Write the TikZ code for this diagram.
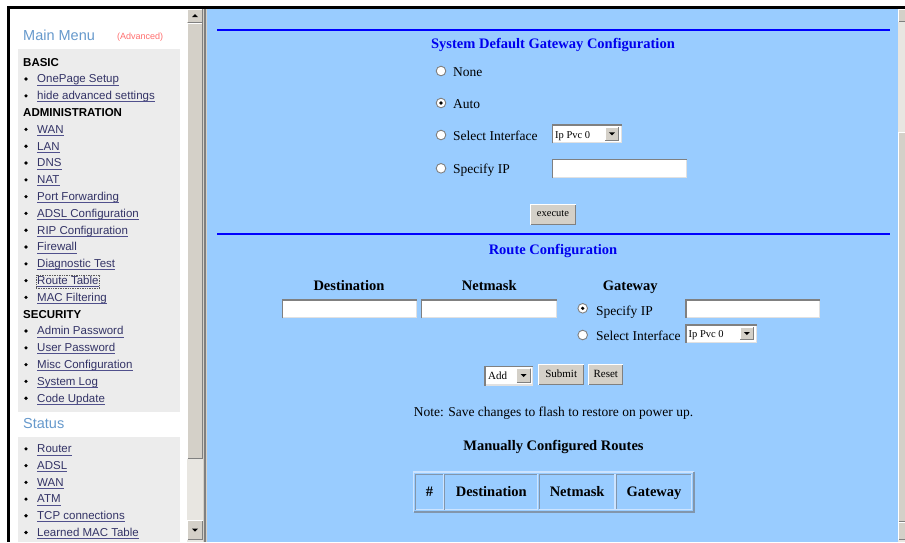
\documentclass[tikz,border=0pt]{standalone}
\usepackage{fontspec}
\setmainfont{Liberation Serif}
\setsansfont{Liberation Sans}

\definecolor{pagebg}{RGB}{153,204,255}
\definecolor{rulebl}{RGB}{0,0,255}
\definecolor{titlebl}{RGB}{0,0,238}
\definecolor{menubl}{RGB}{102,153,204}
\definecolor{advred}{RGB}{255,110,110}
\definecolor{boxgray}{RGB}{236,236,236}
\definecolor{linkc}{RGB}{51,51,102}
\definecolor{linkline}{RGB}{80,80,140}
\definecolor{btnface}{RGB}{212,208,200}
\definecolor{btndark}{RGB}{128,128,128}
\definecolor{trackc}{RGB}{232,230,225}
\definecolor{fieldlight}{RGB}{225,225,225}
\definecolor{celllight}{RGB}{205,228,255}
\definecolor{cellshade}{RGB}{130,150,172}

% raised 3D face: x1 y1 x2 y2
\newcommand\raisedface[4]{%
  \fill[btnface] (#1,#2) rectangle (#3,#4);
  \draw[white,line width=1pt] (#1+0.5,#4-0.5) -- (#1+0.5,#2+0.5) -- (#3-0.5,#2+0.5);
  \draw[btndark,line width=1pt] (#1+0.5,#4-0.5) -- (#3-0.5,#4-0.5) -- (#3-0.5,#2+0.5);
}
% sunken white input field: x1 y1 x2 y2
\newcommand\inputfield[4]{%
  \fill[white] (#1,#2) rectangle (#3,#4);
  \draw[fieldlight,line width=1.2pt] (#1,#4-0.6) -- (#3-0.6,#4-0.6) -- (#3-0.6,#2);
  \draw[btndark,line width=1.2pt] (#1+0.6,#4) -- (#1+0.6,#2+0.6) -- (#3,#2+0.6);
}
% small black arrow heads for buttons, centred at x y
\newcommand\downtri[2]{\fill[black] ({#1-3},{#2-1.5}) -- ({#1+3},{#2-1.5}) -- (#1,{#2+1.5}) -- cycle;}
\newcommand\uptri[2]{\fill[black] ({#1-3},{#2+1.5}) -- ({#1+3},{#2+1.5}) -- (#1,{#2-1.5}) -- cycle;}
% select box with its drop-down button: x1 y1 x2 y2
\newcommand\selectbox[4]{%
  \inputfield{#1}{#2}{#3}{#4}
  \raisedface{#3-17}{#2+2.5}{#3-2.5}{#4-2.5}
  \downtri{#3-9.75}{(#2+#4)/2}
}
% radio button: x y checked
\newcommand\radiobtn[3]{%
  \draw[btndark,line width=0.9pt,fill=white] (#1,#2) circle (4.8);
  \ifnum#3=1 \fill[black] (#1,#2) circle (1.8);\fi
}

\begin{document}
\begin{tikzpicture}[x=1pt,y=-1pt,
  sidehead/.style={anchor=base west,inner sep=0pt,font=\sffamily\bfseries\fontsize{11.5}{13}\selectfont,text=black},
  sidelink/.style={anchor=base west,inner sep=0pt,font=\sffamily\fontsize{11.5}{13}\selectfont,text=linkc},
  menutitle/.style={anchor=base west,inner sep=0pt,font=\sffamily\fontsize{14.5}{16}\selectfont,text=menubl},
  sectitle/.style={anchor=base,inner sep=0pt,font=\bfseries\fontsize{14.5}{16}\selectfont,text=titlebl},
  formtext/.style={anchor=base west,inner sep=0pt,font=\fontsize{13.5}{16}\selectfont},
  colhead/.style={anchor=base,inner sep=0pt,font=\bfseries\fontsize{14.5}{16}\selectfont},
  btntext/.style={inner sep=0pt,font=\fontsize{11}{13}\selectfont},
  smalltext/.style={anchor=base west,inner sep=0pt,font=\fontsize{10.5}{12}\selectfont},
]
\useasboundingbox (0,0) rectangle (905,542);
\fill[white] (0,0) rectangle (905,542);

% window frame
\fill[black] (7,6) rectangle (905,8.5);
\fill[black] (7,6) rectangle (9.5,542);

% ---------- left menu frame ----------
\fill[white] (9.5,8.5) rectangle (187,542);
\fill[boxgray] (18,49) rectangle (180,412);
\fill[boxgray] (18,437) rectangle (180,542);

\node[menutitle] (mainmenu) at (23,40) {Main Menu};
\node[anchor=base west,inner sep=0pt,font=\sffamily\fontsize{9}{10}\selectfont,text=advred] (adv) at (117,39.3) {(Advanced)};

\foreach \i/\t in {0/BASIC,3/ADMINISTRATION,15/SECURITY}{
  \node[sidehead] (m\i) at (23,{66+\i*16.8}) {\t};
}
\foreach \i/\t in {1/OnePage Setup,2/hide advanced settings,4/WAN,5/LAN,6/DNS,7/NAT,
  8/Port Forwarding,9/ADSL Configuration,10/RIP Configuration,11/Firewall,
  12/Diagnostic Test,13/Route Table,14/MAC Filtering,16/Admin Password,
  17/User Password,18/Misc Configuration,19/System Log,20/Code Update}{
  \fill[black] (26,{66+\i*16.8-3.8}) circle (1.8);
  \node[sidelink] (m\i) at (37,{66+\i*16.8}) {\t};
  \draw[linkline,line width=0.8pt] ([yshift=-2.2pt]m\i.base west) -- ([yshift=-2.2pt]m\i.base east);
}
% focus outline of the current entry
\draw[densely dotted,black!65,line width=0.7pt] ([xshift=-1pt,yshift=-3.5pt]m13.base west) rectangle ([xshift=1pt,yshift=9.5pt]m13.base east);

\node[menutitle] (status) at (23,428.3) {Status};
\foreach \j/\t in {0/Router,1/ADSL,2/WAN,3/ATM,4/TCP connections,5/Learned MAC Table}{
  \fill[black] (26,{452.7+\j*16.72-3.8}) circle (1.8);
  \node[sidelink] (s\j) at (37,{452.7+\j*16.72}) {\t};
  \draw[linkline,line width=0.8pt] ([yshift=-2.2pt]s\j.base west) -- ([yshift=-2.2pt]s\j.base east);
}

% left scroll bar
\fill[trackc] (187,8.5) rectangle (203,542);
\raisedface{187}{8.5}{203}{22.5}
\uptri{195}{15.5}
\raisedface{187}{22.5}{203}{459}
\raisedface{187}{520}{203}{540}
\downtri{195}{530}

% frame splitter
\fill[btnface] (203,8.5) rectangle (207,542);
\fill[btndark] (204.3,8.5) rectangle (206.3,542);

% ---------- main frame ----------
\fill[pagebg] (207,8.5) rectangle (898,542);

% right scroll bar
\fill[trackc] (898,8.5) rectangle (905,542);
\raisedface{898}{8.5}{908}{22}
\raisedface{898}{132}{908}{522}
\raisedface{898}{522}{908}{540}

\draw[rulebl,line width=2pt] (217,29.5) -- (890,29.5);
\draw[rulebl,line width=2pt] (217,234) -- (890,234);

% default gateway section
\node[sectitle] (gwtitle) at (553,48.5) {System Default Gateway Configuration};

\radiobtn{441}{71}{0}
\node[formtext] (optnone) at (453,76) {None};
\radiobtn{441}{103}{1}
\node[formtext] (optauto) at (453,108) {Auto};
\radiobtn{441}{135}{0}
\node[formtext] (optif) at (453,140) {Select Interface};
\selectbox{551.7}{124.3}{621.7}{143.3}
\node[smalltext] (ifval) at (555,138) {Ip Pvc 0};
\radiobtn{441}{168.3}{0}
\node[formtext] (optip) at (453,173) {Specify IP};
\inputfield{551.7}{159}{686.7}{178}

\raisedface{530}{204}{576}{225}
\node[btntext,font=\fontsize{10.5}{12}\selectfont] (exec) at (553,213.5) {execute};

% route section
\node[sectitle] (rttitle) at (553,254) {Route Configuration};

\node[colhead,anchor=base west] (hdest) at (313.3,290) {Destination};
\node[colhead,anchor=base west] (hmask) at (461.7,290) {Netmask};
\node[colhead,anchor=base west] (hgw) at (602.7,290) {Gateway};

\inputfield{281.7}{299.3}{416.7}{318.3}
\inputfield{421}{299.3}{556.7}{318.3}

\radiobtn{582.7}{308.3}{1}
\node[formtext] (gwip) at (596,315) {Specify IP};
\inputfield{685.3}{299.3}{820}{318}
\radiobtn{582.7}{335}{0}
\node[formtext] (gwif) at (596,340) {Select Interface};
\selectbox{685.3}{324.3}{756.7}{342.7}
\node[smalltext] (gwifval) at (688.5,337.5) {Ip Pvc 0};

\selectbox{484.3}{365.5}{533.3}{385.5}
\node[smalltext,font=\fontsize{11}{13}\selectfont] (addval) at (488,379.5) {Add};
\raisedface{538.3}{364}{584}{385}
\node[btntext] (submit) at (561.2,374) {Submit};
\raisedface{588.3}{364}{623.3}{385}
\node[btntext] (reset) at (605.8,374) {Reset};

\node[formtext,anchor=base] (note) at (553.5,416.7) {Note: Save changes to flash to restore on power up.};
\node[colhead] (mantitle) at (553.5,450) {Manually Configured Routes};

% routes table
\draw[celllight,line width=1.5pt] (413.5,512) -- (413.5,471.8) -- (693.8,471.8);
\draw[cellshade,line width=1.5pt] (413.5,512) -- (693.8,512) -- (693.8,471.8);
\foreach \a/\b/\c in {415.8/443.3/0,444.8/537.7/1,539.3/615/2,616.4/691.7/3}{
  \draw[cellshade,line width=1.3pt] (\a,509.8) -- (\a,474.2) -- (\b,474.2);
  \draw[celllight,line width=1.3pt] (\a,509.8) -- (\b,509.8) -- (\b,474.2);
  \coordinate (cell\c) at ({(\a+\b)/2},496);
}
\node[colhead] (th0) at (cell0) {\#};
\node[colhead] (th1) at (cell1) {Destination};
\node[colhead] (th2) at (cell2) {Netmask};
\node[colhead] (th3) at (cell3) {Gateway};
\end{tikzpicture}
\end{document}
